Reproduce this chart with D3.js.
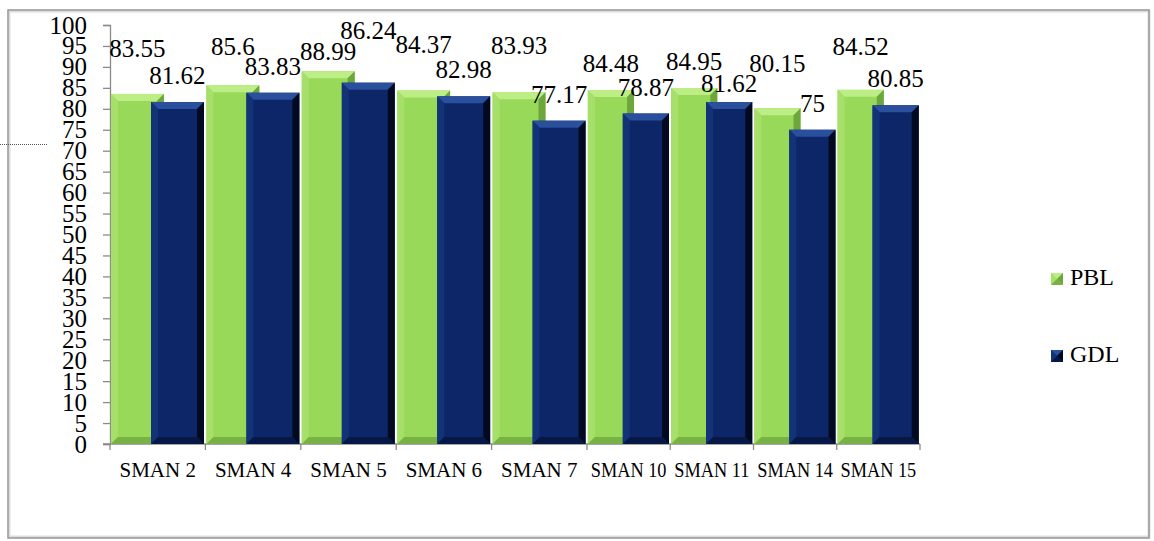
<!DOCTYPE html>
<html><head><meta charset="utf-8">
<script src="https://cdn.jsdelivr.net/npm/d3@7"></script>
<style>
body{margin:0;background:#fff}
svg{display:block}
</style>
</head><body>
<svg id="c" width="1154" height="541" style="font-family:'Liberation Serif','Times New Roman',serif"></svg>
<script>
const categories = ["SMAN 2","SMAN 4","SMAN 5","SMAN 6","SMAN 7","SMAN 10","SMAN 11","SMAN 14","SMAN 15"];
const pblValues = [83.55,85.6,88.99,84.37,83.93,84.48,84.95,80.15,84.52];
const gdlValues = [81.62,83.83,86.24,82.98,77.17,78.87,81.62,75,80.85];
const seriesNames = ["PBL","GDL"];
const yTickValues = d3.range(0,101,5);
// vertical nudges of the data labels relative to the default outside-end spot
const pblLabelNudge = [-19,-12,7,-19,-20,0,0,-18,-17];
const gdlLabelNudge = [0,0,-26,0,0,0,8,0,0];

const FONT = "'Liberation Serif','Times New Roman',serif";
const svg = d3.select("#c");

// frame
svg.append("rect").attr("x",9).attr("y",11).attr("width",1140).attr("height",526)
  .attr("fill","none").attr("stroke","#dcdcdc").attr("stroke-width",3);
svg.append("rect").attr("x",8).attr("y",10).attr("width",1141).attr("height",528)
  .attr("fill","none").attr("stroke","#9a9a9a").attr("stroke-width",1.5);
// stray dotted line at left
svg.append("line").attr("x1",0).attr("x2",48).attr("y1",144.5).attr("y2",144.5)
  .attr("stroke","#555").attr("stroke-width",1).attr("stroke-dasharray","1,1");

// scales: the picture is not uniformly wide, so category boundaries are piecewise
const n = categories.length;
const x = d3.scaleLinear().domain([0,5,n]).range([110,587,920]);
const y = d3.scaleLinear().domain([0,100]).range([444,25]);

// axes
const gy = svg.append("g").attr("transform","translate(110,0)")
  .call(d3.axisLeft(y).tickValues(yTickValues).tickSize(7).tickPadding(16).tickFormat(d3.format("d")));
gy.attr("font-family",FONT).attr("font-size",25);
gy.select(".domain").attr("stroke","#8a8a8a").attr("stroke-width",1.3);
gy.selectAll(".tick line").attr("stroke","#8a8a8a").attr("stroke-width",1.3);
gy.selectAll(".tick text").attr("font-size",25).style("font-family",FONT).attr("fill","#000");

const gx = svg.append("g").attr("transform","translate(0,444)");
gx.append("line").attr("x1",103).attr("x2",x(n)).attr("y1",0).attr("y2",0)
  .attr("stroke","#8a8a8a").attr("stroke-width",1.3);
gx.selectAll("line.t").data(d3.range(n+1)).join("line").attr("class","t")
  .attr("x1",d=>x(d)).attr("x2",d=>x(d)).attr("y1",0).attr("y2",6)
  .attr("stroke","#8a8a8a").attr("stroke-width",1.3);
const refW = x(1)-x(0);
gx.selectAll("text").data(categories).join("text")
  .attr("transform",(d,i)=>`translate(${(x(i)+x(i+1))/2},33) scale(${(x(i+1)-x(i))/refW},1)`)
  .attr("text-anchor","middle").attr("font-size",21).style("font-family",FONT).text(d=>d);

// bevelled bars
const styles = [
  {main:"#99d95a", top:"#bdee86", left:"#a6e06a", right:"#6da63c", bottom:"#78b246"},
  {main:"#0c2668", top:"#2a4f9c", left:"#123378", right:"#020a22", bottom:"#071847"}
];
const offsets = [0.01, 0.43];
const barFrac = 0.555;
const bev = 7;

function drawBar(g, x0, x1, yt, yb, st){
  g.append("rect").attr("x",x0).attr("y",yt).attr("width",x1-x0).attr("height",yb-yt).attr("fill",st.main);
  const b = Math.min(bev,(x1-x0)/2,(yb-yt)/2);
  g.append("polygon").attr("points",[[x0,yt],[x1,yt],[x1-b,yt+b],[x0+b,yt+b]].join(" ")).attr("fill",st.top);
  g.append("polygon").attr("points",[[x0,yt],[x0+b,yt+b],[x0+b,yb-b],[x0,yb]].join(" ")).attr("fill",st.left);
  g.append("polygon").attr("points",[[x1,yt],[x1,yb],[x1-b,yb-b],[x1-b,yt+b]].join(" ")).attr("fill",st.right);
  g.append("polygon").attr("points",[[x0,yb],[x1,yb],[x1-b,yb-b],[x0+b,yb-b]].join(" ")).attr("fill",st.bottom);
}

const allSeries = [pblValues, gdlValues];
const nudges = [pblLabelNudge, gdlLabelNudge];
const barsG = svg.append("g");
allSeries.forEach((vals,s)=>{
  vals.forEach((v,i)=>{
    const x0 = x(i+offsets[s]), x1 = x(i+offsets[s]+barFrac);
    drawBar(barsG, x0, x1, y(v), y(0), styles[s]);
  });
});

// data labels
const labG = svg.append("g");
allSeries.forEach((vals,s)=>{
  vals.forEach((v,i)=>{
    const cx = (x(i+offsets[s]) + x(i+offsets[s]+barFrac))/2;
    labG.append("text").attr("x",cx).attr("y",y(v)-18+nudges[s][i])
      .attr("text-anchor","middle").attr("font-size",25).style("font-family",FONT).text(String(v));
  });
});

// legend
const leg = svg.append("g");
seriesNames.forEach((name,s)=>{
  const ly = 273 + s*77;
  drawBar(leg, 1051, 1063, ly, ly+12, styles[s]);
  leg.append("text").attr("x",1070).attr("y",ly+12).attr("font-size",24).style("font-family",FONT).text(name);
});
</script>
</body></html>
